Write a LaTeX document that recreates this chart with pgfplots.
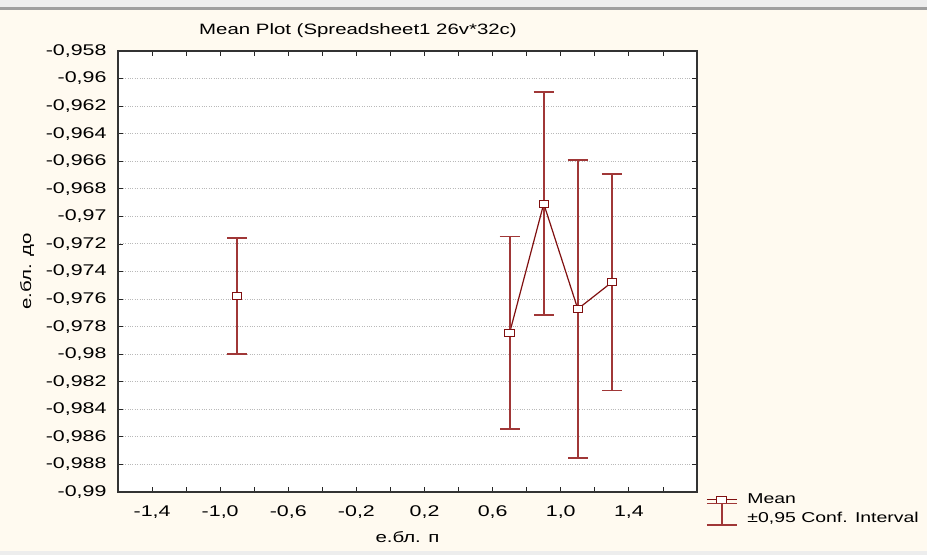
\documentclass[border=0pt]{standalone}
\usepackage{fontspec}
\setmainfont{Liberation Sans}[FakeStretch=1.36]
\newfontfamily\tickfont{Liberation Sans}[FakeStretch=1.38]
\usepackage{pgfplots}
\usepackage{pgfplotstable}
\pgfplotsset{compat=1.18}
\definecolor{bgC}{RGB}{255,250,240}
\definecolor{meanC}{RGB}{128,16,16}
\definecolor{errC}{RGB}{160,55,55}
\definecolor{gridC}{RGB}{185,185,185}

% isolated group (not joined)
\pgfplotstableread{
x y e
-0.9 -0.97578 0.00421
}\tblA
% joined groups
\pgfplotstableread{
x y e
0.7 -0.97844 0.00697
0.9 -0.96908 0.00809
1.1 -0.97672 0.01082
1.3 -0.97478 0.00785
}\tblB

\newcommand{\fs}{\fontsize{15bp}{18bp}\selectfont}
\newcommand{\fl}{\fontsize{14.3bp}{17bp}\selectfont}
\newcommand{\ft}{\tickfont\fontsize{15.5bp}{18bp}\selectfont}

\begin{document}
\begin{tikzpicture}
  \fill[black!7] (0bp,0bp) rectangle (927bp,555bp);
  \fill[bgC] (0bp,4bp) rectangle (927bp,545bp);
  \fill[black!38] (0bp,545bp) rectangle (927bp,548bp);
  \useasboundingbox (0bp,0bp) rectangle (927bp,555bp);
  \node[font=\fs] at (358bp,524bp) {Mean Plot (Spreadsheet1 26v*32c)};
  \begin{axis}[
    at={(118bp,63bp)}, anchor=south west,
    width=579bp, height=441bp, scale only axis,
    xmin=-1.6, xmax=1.8, ymin=-0.99, ymax=-0.958,
    xtick={-1.4,-1.0,-0.6,-0.2,0.2,0.6,1.0,1.4},
    xticklabels={{-1,4},{-1,0},{-0,6},{-0,2},{0,2},{0,6},{1,0},{1,4}},
    minor xtick={-1.2,-0.8,-0.4,0,0.4,0.8,1.2,1.6},
    ytick={-0.99,-0.988,-0.986,-0.984,-0.982,-0.98,-0.978,-0.976,-0.974,
      -0.972,-0.97,-0.968,-0.966,-0.964,-0.962,-0.96,-0.958},
    yticklabels={{-0,99},{-0,988},{-0,986},{-0,984},{-0,982},{-0,98},{-0,978},
      {-0,976},{-0,974},{-0,972},{-0,97},{-0,968},{-0,966},{-0,964},{-0,962},
      {-0,96},{-0,958}},
    xticklabel shift=10bp, yticklabel shift=8bp,
    tick label style={font=\ft},
    label style={font=\fs},
    xlabel={е.бл. п}, ylabel={е.бл. до},
    xlabel style={at={(axis description cs:0.5,0)}, anchor=center, yshift=-45bp},
    ylabel style={at={(axis description cs:-0.157,0.5)}, anchor=center},
    ymajorgrids, grid style={gridC, dotted, line width=0.9bp},
    tick style={black!85, line width=0.8bp},
    major tick length=5bp, minor tick length=5bp,
    axis line style={black!80, line width=1.2bp},
    axis background/.style={fill=white},
    legend style={at={(1,0)}, anchor=north west, xshift=9bp, yshift=2bp,
      draw=none, fill=none, font=\fl, inner sep=0bp, row sep=0bp,
      nodes={inner sep=2bp, text height=11bp, text depth=4bp}},
    legend cell align=left,
  ]
    \addplot[meanC, line width=1.2bp, mark=square*,
      mark options={xscale=1.3, fill=white, draw=meanC, line width=1bp, solid},
      mark size=3.6bp, forget plot,
      error bars/.cd, y dir=both, y explicit,
      error bar style={draw=errC, line width=1.7bp},
      error mark options={rotate=90, mark size=10bp, draw=errC, line width=1.7bp}]
      table[x=x, y=y, y error=e] {\tblA};
    \addplot[meanC, line width=1.2bp, mark=square*,
      mark options={xscale=1.3, fill=white, draw=meanC, line width=1bp, solid},
      mark size=3.6bp,
      legend image code/.code={
        \path (0bp,0bp) (38bp,0bp);
        \draw[overlay, meanC, line width=1.2bp] (0bp,0bp) -- (30bp,0bp);
        \draw[overlay, meanC, fill=white, line width=1bp] (10bp,-3.5bp) rectangle (20bp,3.5bp);},
      error bars/.cd, y dir=both, y explicit,
      error bar style={draw=errC, line width=1.7bp},
      error mark options={rotate=90, mark size=10bp, draw=errC, line width=1.7bp}]
      table[x=x, y=y, y error=e] {\tblB};
    \addlegendentry{Mean}
    \addlegendimage{legend image code/.code={
        \path (0bp,0bp) (38bp,0bp);
        \draw[overlay, errC, line width=1.6bp] (0bp,15bp) -- (30bp,15bp)
          (15bp,15bp) -- (15bp,-6bp) (0bp,-6bp) -- (30bp,-6bp);}}
    \addlegendentry{±0,95 Conf. Interval}
  \end{axis}
\end{tikzpicture}
\end{document}
